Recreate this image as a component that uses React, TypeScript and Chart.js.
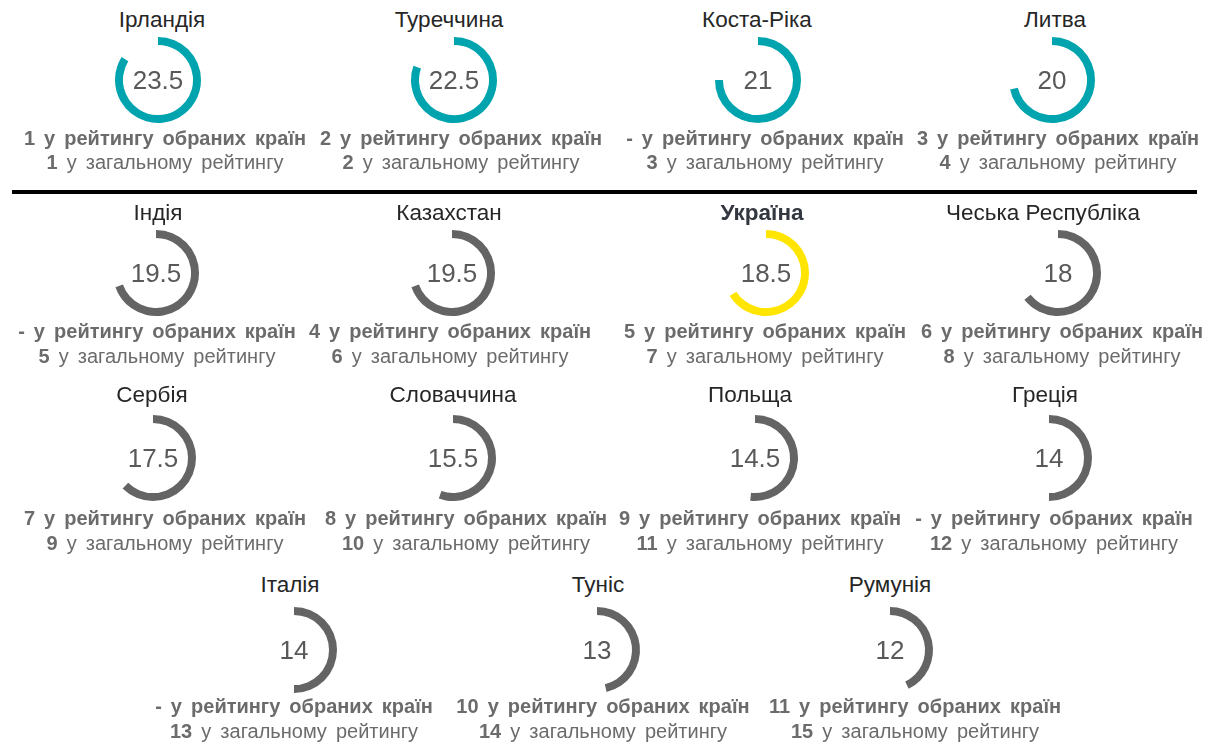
import React, { useEffect, useRef } from "react";
import { Chart, registerables } from "chart.js";

Chart.register(...registerables);

// ---------- data ----------
const countries = [
  "Ірландія", "Туреччина", "Коста-Ріка", "Литва",
  "Індія", "Казахстан", "Україна", "Чеська Республіка",
  "Сербія", "Словаччина", "Польща", "Греція",
  "Італія", "Туніс", "Румунія",
];
const scores = [23.5, 22.5, 21, 20, 19.5, 19.5, 18.5, 18, 17.5, 15.5, 14.5, 14, 14, 13, 12];
const selectedRank = ["1", "2", "-", "3", "-", "4", "5", "6", "7", "8", "9", "-", "-", "10", "11"];
const overallRank = ["1", "2", "3", "4", "5", "6", "7", "8", "9", "10", "11", "12", "13", "14", "15"];
const groups = [
  "top", "top", "top", "top",
  "other", "other", "ukraine", "other",
  "other", "other", "other", "other",
  "other", "other", "other",
];
const scaleMax = 28;
const selectedLabel = "у рейтингу обраних країн";
const overallLabel = "у загальному рейтингу";

// ---------- styles / layout ----------
const groupColors: Record<string, string> = {
  top: "#00A4AE",
  other: "#646464",
  ukraine: "#FFE500",
};
const FONT = "'Liberation Sans', Arial, sans-serif";

// per row: y of name, ring centre, rank line 1, rank line 2
const rowNameY = [20, 213, 395, 585];
const rowRingY = [80, 273, 458, 650];
const rowLine1Y = [138, 331, 518, 706];
const rowLine2Y = [162, 356, 543, 731];

// per cell: row, ring x, name x, text x
const cellRow = [0, 0, 0, 0, 1, 1, 1, 1, 2, 2, 2, 2, 3, 3, 3];
const cellRingX = [158, 454, 758, 1052, 156, 452, 766, 1058, 153, 453, 755, 1049, 294, 597, 890];
const cellNameX = [162, 449, 757, 1055, 158, 449, 762, 1043, 152, 453, 750, 1045, 290, 598, 890];
const cellTextX = [165, 461, 765, 1058, 157, 450, 765, 1062, 165, 466, 760, 1054, 294, 603, 915];

function Gauge({ value, color, x, y }: { value: number; color: string; x: number; y: number }) {
  const ref = useRef<HTMLCanvasElement | null>(null);
  useEffect(() => {
    if (!ref.current) return;
    const chart = new Chart(ref.current, {
      type: "doughnut",
      data: {
        labels: ["score", "rest"],
        datasets: [
          {
            data: [value, scaleMax - value],
            backgroundColor: [color, "rgba(0,0,0,0)"],
            borderWidth: 0,
            hoverOffset: 0,
            offset: 0,
          },
        ],
      },
      options: {
        responsive: false,
        animation: false,
        radius: 43,
        cutout: "81.5%",
        rotation: 0,
        events: [],
        layout: { padding: 0 },
        plugins: { legend: { display: false }, tooltip: { enabled: false } },
      } as any,
    });
    return () => chart.destroy();
  }, [value, color]);
  return (
    <canvas
      ref={ref}
      width={100}
      height={100}
      style={{ position: "absolute", left: x - 50, top: y - 50, width: 100, height: 100 }}
    />
  );
}

function centered(x: number, y: number): React.CSSProperties {
  return {
    position: "absolute",
    left: x - 200,
    top: y,
    width: 400,
    textAlign: "center",
    transform: "translateY(-50%)",
    whiteSpace: "nowrap",
    lineHeight: 1,
  };
}

export default function App() {
  return (
    <div
      style={{
        position: "fixed",
        left: 0,
        top: 0,
        width: 1225,
        height: 742,
        background: "#fff",
        fontFamily: FONT,
        overflow: "hidden",
      }}
    >
      <div style={{ position: "absolute", left: 12, top: 190, width: 1185, height: 4, background: "#000" }} />
      {countries.map((name, i) => {
        const r = cellRow[i];
        const isUa = groups[i] === "ukraine";
        return (
          <React.Fragment key={name}>
            <div
              style={{
                ...centered(cellNameX[i], rowNameY[r]),
                fontSize: 22.5,
                color: isUa ? "#333740" : "#262626",
                fontWeight: isUa ? 700 : 400,
              }}
            >
              {name}
            </div>
            <Gauge value={scores[i]} color={groupColors[groups[i]]} x={cellRingX[i]} y={rowRingY[r]} />
            <div style={{ ...centered(cellRingX[i], rowRingY[r]), fontSize: 26, color: "#595959" }}>
              {String(scores[i])}
            </div>
            <div
              style={{
                ...centered(cellTextX[i], rowLine1Y[r]),
                fontSize: 20,
                fontWeight: 700,
                color: "#6B6B6B",
                wordSpacing: 3.5,
              }}
            >
              {selectedRank[i]} {selectedLabel}
            </div>
            <div
              style={{
                ...centered(cellTextX[i], rowLine2Y[r]),
                fontSize: 20,
                color: "#6B6B6B",
                wordSpacing: 3.5,
              }}
            >
              <b>{overallRank[i]}</b> {overallLabel}
            </div>
          </React.Fragment>
        );
      })}
    </div>
  );
}
